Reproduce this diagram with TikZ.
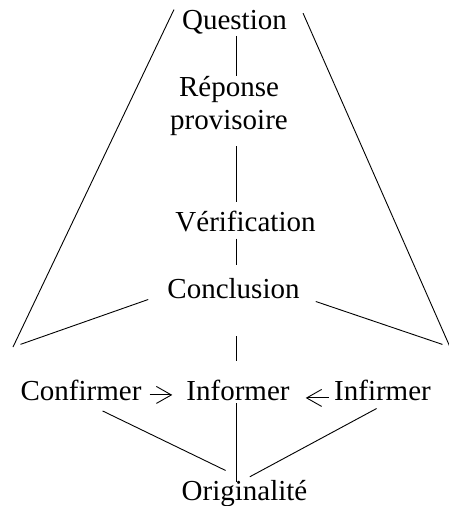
\documentclass[tikz,border=0pt]{standalone}
\usepackage{fontspec}
\setmainfont{Liberation Serif}
\usetikzlibrary{arrows.meta}

\tikzset{
  testo/.style={font=\fontsize{29}{33}\selectfont, inner sep=0pt, anchor=base},
  linea/.style={line width=0.9pt},
  freccia/.style={linea, -{Straight Barb[length=15pt,width=17pt]}}
}

\begin{document}
\begin{tikzpicture}[x=1pt,y=-1pt]
        \useasboundingbox (0,0) rectangle (448,506);

        % Nodi
        \node[testo] (q) at (234.5,29) {Question};
        \node[testo, align=center] (r) at (229,129) {Réponse\\provisoire};
        \node[testo] (v) at (245.5,231) {Vérification};
        \node[testo] (c) at (233.5,298) {Conclusion};
        \node[testo] (cf) at (81,400) {Confirmer};
        \node[testo] (in) at (238,400) {Informer};
        \node[testo] (if) at (382.5,400) {Infirmer};
        \node[testo] (o) at (244.5,500) {Originalité};

        % Asse verticale e angoli
        \coordinate (asse) at (236,0);
        \coordinate (ag) at (13,347);   % angolo sinistro
        \coordinate (ad) at (450,347);  % angolo destro

        % Linee verticali
        \draw[linea, shorten <=2pt] (q.south -| asse) -- (r.north -| asse);
        \draw[linea, shorten <=11pt, shorten >=8pt] (r.south -| asse) -- (v.north -| asse);
        \draw[linea, shorten <=7pt, shorten >=13pt] (v.south -| asse) -- (c.north -| asse);
        \draw[linea, shorten <=38pt, shorten >=18pt] (c.south -| asse) -- (in.north -| asse);

        % Lati esterni
        \draw[linea] ([xshift=-8pt]q.north west) -- (ag);
        \draw[linea] ([xshift=16pt,yshift=-3.6pt]q.north east) -- (ad);
        \draw[linea, shorten >=8pt] ([xshift=-19pt,yshift=-1pt]c.south west) -- (ag);
        \draw[linea, shorten >=8pt] ([xshift=16pt,yshift=-3pt]c.south east) -- (ad);

        % Frecce verso Informer
        \draw[freccia, shorten <=8pt, shorten >=14pt] ([yshift=-5pt]cf.east) -- ([yshift=-5pt]in.west);
        \draw[freccia, shorten <=5pt, shorten >=16pt] ([yshift=-8pt]if.west) -- ([yshift=-8pt]in.east);

        % Verso Originalità
        \draw[linea, shorten <=24pt, shorten >=21pt] (cf.south) -- (o.north);
        \draw[linea, shorten <=3pt, shorten >=-2pt] (in.south -| asse) -- (o.north -| asse);
        \draw[linea, shorten <=17pt, shorten >=6pt] ([xshift=9pt]if.south) -- (o.north);
    \end{tikzpicture}
\end{document}
